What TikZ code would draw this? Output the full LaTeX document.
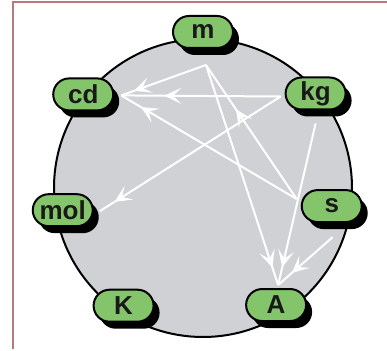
\documentclass[tikz,border=0pt]{standalone}
\usepackage{fontspec}
\setmainfont{Liberation Sans}
\usetikzlibrary{arrows.meta,calc,shadows,decorations.markings}
\definecolor{unitgreen}{HTML}{84C56C}
\definecolor{ringgray}{HTML}{CFD1D4}
\definecolor{framered}{HTML}{B8797C}

\begin{document}
\begin{tikzpicture}[x=0.5pt,y=0.5pt,>=Stealth,
    link/.style={white,line width=1pt,postaction={decorate},
      decoration={markings,mark=at position #1 with {\arrow{Stealth[length=8.5pt,width=8pt,inset=4pt]}}}}]
    \tikzstyle{unit}=[rectangle,draw,line width=1pt,fill=unitgreen,rounded corners=8pt,
      minimum width=30pt,minimum height=16pt,inner sep=1pt,text=black!90,
      font=\fontsize{13}{15}\selectfont\bfseries,
      general shadow={fill=black,shadow xshift=3pt,shadow yshift=-3.5pt}]
    \useasboundingbox (-203,-163) rectangle (184,188);
    \draw[framered,line width=0.6pt] (-190,-161) -- (-190,186) -- (184,186);
    \draw[line width=1pt,fill=ringgray] (0,0) circle (149);
    % the seven units round the ring
    \node[unit] (m) at (90:156) {m};
    \node[unit] (kg) at (40:147) {kg};
    \node[unit] (s) at (-8:130) {s};
    \node[unit] (A) at (-58:138) {A};
    \node[unit] (K) at (236:142) {K};
    \node[unit] (mol) at (189:142) {mol};
    \node[unit] (cd) at (142:152) {cd};
    % where the links meet the units
    \coordinate (m-out) at ($(m)+(3,-33)$);
    \coordinate (kg-w) at ($(kg)+(-35,-3)$);
    \coordinate (kg-s) at ($(kg)+(0,-30)$);
    \coordinate (s-w) at ($(s)+(-35,7)$);
    \coordinate (s-s) at ($(s)+(1,-31)$);
    \coordinate (cd-in) at ($(cd)+(38,-1)$);
    \coordinate (A-in) at ($(A)+(2,20)$);
    \coordinate (mol-in) at ($(mol)+(37,-1)$);
    \draw[link=0.85] (m-out) -- (cd-in);
    \draw[link=0.73] (kg-w) -- (cd-in);
    \draw[link=0.89] (s-w) -- (cd-in);
    \draw[link=0.67] (s-w) -- (m-out);
    \draw[link=0.92] (kg-w) -- (mol-in);
    \draw[link=0.92] (m-out) -- (A-in);
    \draw[link=0.89] (kg-s) -- (A-in);
    \draw[link=0.75] (s-s) -- (A-in);
  \end{tikzpicture}
\end{document}
